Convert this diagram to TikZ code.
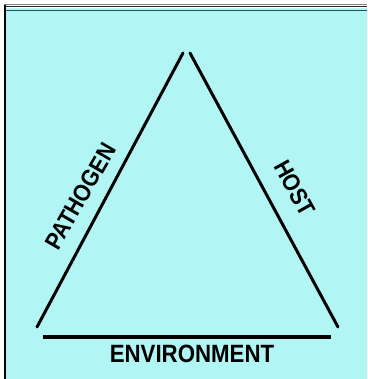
\documentclass[tikz,border=0pt]{standalone}
\usepackage{fontspec}
\setmainfont{Liberation Sans}
\definecolor{bgcyan}{RGB}{178,245,245}
\definecolor{topteal}{RGB}{40,80,80}
\begin{document}
\begin{tikzpicture}[x=1pt,y=-1pt,
  side/.style={line width=3pt, black, line cap=round},
  lbl/.style={font=\fontsize{25}{25}\selectfont\bfseries, inner sep=0pt, xscale=0.89},
  slbl/.style={font=\fontsize{24}{24}\selectfont\bfseries, inner sep=0pt, xscale=0.89}]
\useasboundingbox (0,0) rectangle (367,379);
\fill[white] (0,0) rectangle (367,379);
\fill[bgcyan] (5,8) rectangle (367,379);
\draw[line width=1pt, gray] (4,5) -- (367,5);
\draw[line width=1.5pt, black!85] (4,6.5) -- (367,6.5);
\draw[line width=1.5pt, topteal] (5,10.5) -- (367,10.5);
\draw[line width=2pt, black] (5,5) -- (5,379);
\coordinate (apl) at (183,53);
\coordinate (apr) at (190,53);
\coordinate (bl) at (37,327);
\coordinate (br) at (338,327);
\coordinate (el) at (43,337);
\coordinate (er) at (331,337);
\draw[side] (bl) -- (apl);
\draw[side] (apr) -- (br);
\draw[side, line width=3.5pt, line cap=butt] (el) -- (er);
\node[lbl] (env) at (192,354) {ENVIRONMENT};
\node[rotate=60, slbl] (pat) at (80.5,196.5) {PATHOGEN};
\node[rotate=-61, slbl] (host) at (295,188) {HOST};
\end{tikzpicture}
\end{document}
